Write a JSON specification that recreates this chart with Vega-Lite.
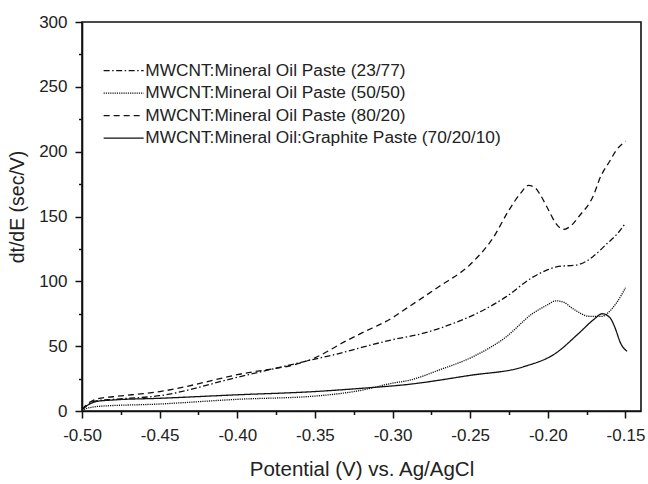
{
  "$schema": "https://vega.github.io/schema/vega-lite/v6.json",
  "width": 559,
  "height": 389,
  "autosize": {"type": "none"},
  "padding": {"left": 82, "top": 22, "right": 7, "bottom": 73},
  "background": "white",
  "config": {
    "view": {"stroke": "#111", "strokeWidth": 1.6},
    "font": "Liberation Sans",
    "axis": {
      "grid": false,
      "domainColor": "#111",
      "domainWidth": 1.6,
      "tickColor": "#111",
      "tickWidth": 1.5,
      "labelFont": "Liberation Sans",
      "labelFontSize": 17,
      "labelColor": "#222",
      "titleFont": "Liberation Sans",
      "titleFontWeight": "normal",
      "titleColor": "#222"
    },
    "legend": {
      "symbolType": "M-4,0H4",
      "symbolSize": 100,
      "symbolStrokeColor": "#111",
      "symbolStrokeWidth": 1.3
    }
  },
  "data": {
    "values": [
      {"s": "MWCNT:Mineral Oil Paste (80/20)", "x": -0.5, "y": 1},
      {"s": "MWCNT:Mineral Oil Paste (80/20)", "x": -0.497, "y": 5},
      {"s": "MWCNT:Mineral Oil Paste (80/20)", "x": -0.493, "y": 8},
      {"s": "MWCNT:Mineral Oil Paste (80/20)", "x": -0.49, "y": 9.5},
      {"s": "MWCNT:Mineral Oil Paste (80/20)", "x": -0.48, "y": 11},
      {"s": "MWCNT:Mineral Oil Paste (80/20)", "x": -0.45, "y": 15},
      {"s": "MWCNT:Mineral Oil Paste (80/20)", "x": -0.4, "y": 28},
      {"s": "MWCNT:Mineral Oil Paste (80/20)", "x": -0.35, "y": 41},
      {"s": "MWCNT:Mineral Oil Paste (80/20)", "x": -0.33, "y": 54},
      {"s": "MWCNT:Mineral Oil Paste (80/20)", "x": -0.32, "y": 60},
      {"s": "MWCNT:Mineral Oil Paste (80/20)", "x": -0.3, "y": 72},
      {"s": "MWCNT:Mineral Oil Paste (80/20)", "x": -0.29, "y": 80},
      {"s": "MWCNT:Mineral Oil Paste (80/20)", "x": -0.27, "y": 96},
      {"s": "MWCNT:Mineral Oil Paste (80/20)", "x": -0.25, "y": 113},
      {"s": "MWCNT:Mineral Oil Paste (80/20)", "x": -0.235, "y": 134},
      {"s": "MWCNT:Mineral Oil Paste (80/20)", "x": -0.225, "y": 155},
      {"s": "MWCNT:Mineral Oil Paste (80/20)", "x": -0.2175, "y": 168},
      {"s": "MWCNT:Mineral Oil Paste (80/20)", "x": -0.2125, "y": 174},
      {"s": "MWCNT:Mineral Oil Paste (80/20)", "x": -0.208, "y": 172},
      {"s": "MWCNT:Mineral Oil Paste (80/20)", "x": -0.205, "y": 167},
      {"s": "MWCNT:Mineral Oil Paste (80/20)", "x": -0.2, "y": 156},
      {"s": "MWCNT:Mineral Oil Paste (80/20)", "x": -0.195, "y": 145},
      {"s": "MWCNT:Mineral Oil Paste (80/20)", "x": -0.19, "y": 140},
      {"s": "MWCNT:Mineral Oil Paste (80/20)", "x": -0.185, "y": 143},
      {"s": "MWCNT:Mineral Oil Paste (80/20)", "x": -0.18, "y": 150},
      {"s": "MWCNT:Mineral Oil Paste (80/20)", "x": -0.17, "y": 168},
      {"s": "MWCNT:Mineral Oil Paste (80/20)", "x": -0.167, "y": 178},
      {"s": "MWCNT:Mineral Oil Paste (80/20)", "x": -0.16, "y": 193},
      {"s": "MWCNT:Mineral Oil Paste (80/20)", "x": -0.156, "y": 201},
      {"s": "MWCNT:Mineral Oil Paste (80/20)", "x": -0.15, "y": 208},

      {"s": "MWCNT:Mineral Oil Paste (23/77)", "x": -0.5, "y": 1},
      {"s": "MWCNT:Mineral Oil Paste (23/77)", "x": -0.497, "y": 4},
      {"s": "MWCNT:Mineral Oil Paste (23/77)", "x": -0.493, "y": 7},
      {"s": "MWCNT:Mineral Oil Paste (23/77)", "x": -0.49, "y": 8},
      {"s": "MWCNT:Mineral Oil Paste (23/77)", "x": -0.48, "y": 9},
      {"s": "MWCNT:Mineral Oil Paste (23/77)", "x": -0.45, "y": 11.8},
      {"s": "MWCNT:Mineral Oil Paste (23/77)", "x": -0.4, "y": 26},
      {"s": "MWCNT:Mineral Oil Paste (23/77)", "x": -0.35, "y": 40},
      {"s": "MWCNT:Mineral Oil Paste (23/77)", "x": -0.334, "y": 44.5},
      {"s": "MWCNT:Mineral Oil Paste (23/77)", "x": -0.32, "y": 49},
      {"s": "MWCNT:Mineral Oil Paste (23/77)", "x": -0.3, "y": 55},
      {"s": "MWCNT:Mineral Oil Paste (23/77)", "x": -0.28, "y": 60},
      {"s": "MWCNT:Mineral Oil Paste (23/77)", "x": -0.26, "y": 68},
      {"s": "MWCNT:Mineral Oil Paste (23/77)", "x": -0.248, "y": 74},
      {"s": "MWCNT:Mineral Oil Paste (23/77)", "x": -0.227, "y": 88},
      {"s": "MWCNT:Mineral Oil Paste (23/77)", "x": -0.21, "y": 103},
      {"s": "MWCNT:Mineral Oil Paste (23/77)", "x": -0.2, "y": 109},
      {"s": "MWCNT:Mineral Oil Paste (23/77)", "x": -0.195, "y": 111},
      {"s": "MWCNT:Mineral Oil Paste (23/77)", "x": -0.18, "y": 113},
      {"s": "MWCNT:Mineral Oil Paste (23/77)", "x": -0.171, "y": 119},
      {"s": "MWCNT:Mineral Oil Paste (23/77)", "x": -0.162, "y": 129},
      {"s": "MWCNT:Mineral Oil Paste (23/77)", "x": -0.155, "y": 137},
      {"s": "MWCNT:Mineral Oil Paste (23/77)", "x": -0.15, "y": 145},

      {"s": "MWCNT:Mineral Oil Paste (50/50)", "x": -0.5, "y": 0.5},
      {"s": "MWCNT:Mineral Oil Paste (50/50)", "x": -0.497, "y": 2},
      {"s": "MWCNT:Mineral Oil Paste (50/50)", "x": -0.493, "y": 3},
      {"s": "MWCNT:Mineral Oil Paste (50/50)", "x": -0.49, "y": 3.5},
      {"s": "MWCNT:Mineral Oil Paste (50/50)", "x": -0.45, "y": 5.4},
      {"s": "MWCNT:Mineral Oil Paste (50/50)", "x": -0.4, "y": 9},
      {"s": "MWCNT:Mineral Oil Paste (50/50)", "x": -0.35, "y": 11.5},
      {"s": "MWCNT:Mineral Oil Paste (50/50)", "x": -0.32, "y": 16},
      {"s": "MWCNT:Mineral Oil Paste (50/50)", "x": -0.3, "y": 21.5},
      {"s": "MWCNT:Mineral Oil Paste (50/50)", "x": -0.29, "y": 23.5},
      {"s": "MWCNT:Mineral Oil Paste (50/50)", "x": -0.27, "y": 31.6},
      {"s": "MWCNT:Mineral Oil Paste (50/50)", "x": -0.248, "y": 42},
      {"s": "MWCNT:Mineral Oil Paste (50/50)", "x": -0.227, "y": 57},
      {"s": "MWCNT:Mineral Oil Paste (50/50)", "x": -0.21, "y": 75},
      {"s": "MWCNT:Mineral Oil Paste (50/50)", "x": -0.2, "y": 82},
      {"s": "MWCNT:Mineral Oil Paste (50/50)", "x": -0.195, "y": 85},
      {"s": "MWCNT:Mineral Oil Paste (50/50)", "x": -0.19, "y": 84},
      {"s": "MWCNT:Mineral Oil Paste (50/50)", "x": -0.184, "y": 79},
      {"s": "MWCNT:Mineral Oil Paste (50/50)", "x": -0.173, "y": 73},
      {"s": "MWCNT:Mineral Oil Paste (50/50)", "x": -0.165, "y": 73},
      {"s": "MWCNT:Mineral Oil Paste (50/50)", "x": -0.162, "y": 75},
      {"s": "MWCNT:Mineral Oil Paste (50/50)", "x": -0.156, "y": 83},
      {"s": "MWCNT:Mineral Oil Paste (50/50)", "x": -0.15, "y": 95},

      {"s": "MWCNT:Mineral Oil:Graphite Paste (70/20/10)", "x": -0.5, "y": 1},
      {"s": "MWCNT:Mineral Oil:Graphite Paste (70/20/10)", "x": -0.497, "y": 4},
      {"s": "MWCNT:Mineral Oil:Graphite Paste (70/20/10)", "x": -0.493, "y": 6.5},
      {"s": "MWCNT:Mineral Oil:Graphite Paste (70/20/10)", "x": -0.49, "y": 7.5},
      {"s": "MWCNT:Mineral Oil:Graphite Paste (70/20/10)", "x": -0.48, "y": 8.5},
      {"s": "MWCNT:Mineral Oil:Graphite Paste (70/20/10)", "x": -0.45, "y": 9.8},
      {"s": "MWCNT:Mineral Oil:Graphite Paste (70/20/10)", "x": -0.4, "y": 12.5},
      {"s": "MWCNT:Mineral Oil:Graphite Paste (70/20/10)", "x": -0.35, "y": 15},
      {"s": "MWCNT:Mineral Oil:Graphite Paste (70/20/10)", "x": -0.32, "y": 17.5},
      {"s": "MWCNT:Mineral Oil:Graphite Paste (70/20/10)", "x": -0.29, "y": 20.5},
      {"s": "MWCNT:Mineral Oil:Graphite Paste (70/20/10)", "x": -0.25, "y": 27.5},
      {"s": "MWCNT:Mineral Oil:Graphite Paste (70/20/10)", "x": -0.216, "y": 34},
      {"s": "MWCNT:Mineral Oil:Graphite Paste (70/20/10)", "x": -0.195, "y": 44.5},
      {"s": "MWCNT:Mineral Oil:Graphite Paste (70/20/10)", "x": -0.18, "y": 60},
      {"s": "MWCNT:Mineral Oil:Graphite Paste (70/20/10)", "x": -0.17, "y": 71},
      {"s": "MWCNT:Mineral Oil:Graphite Paste (70/20/10)", "x": -0.165, "y": 75},
      {"s": "MWCNT:Mineral Oil:Graphite Paste (70/20/10)", "x": -0.16, "y": 72},
      {"s": "MWCNT:Mineral Oil:Graphite Paste (70/20/10)", "x": -0.157, "y": 65},
      {"s": "MWCNT:Mineral Oil:Graphite Paste (70/20/10)", "x": -0.153, "y": 52},
      {"s": "MWCNT:Mineral Oil:Graphite Paste (70/20/10)", "x": -0.149, "y": 46}
    ]
  },
  "mark": {"type": "line", "interpolate": "monotone", "color": "#111", "strokeWidth": 1.3, "clip": true},
  "encoding": {
    "x": {
      "field": "x",
      "type": "quantitative",
      "scale": {"domain": [-0.5, -0.14], "nice": false, "zero": false},
      "axis": {
        "title": "Potential (V) vs. Ag/AgCl",
        "titleFontSize": 20.5,
        "titlePadding": 16,
        "values": [-0.5, -0.475, -0.45, -0.425, -0.4, -0.375, -0.35, -0.325, -0.3, -0.275, -0.25, -0.225, -0.2, -0.175, -0.15],
        "labelExpr": "abs(round(datum.value*1000)) % 50 == 0 ? '-' + format(abs(datum.value), '.2f') : ''",
        "tickSize": {"condition": {"test": "abs(round(datum.value*1000)) % 50 != 0", "value": 3.5}, "value": 7},
        "labelPadding": 9,
        "labelFlush": false,
        "labelOverlap": false
      }
    },
    "y": {
      "field": "y",
      "type": "quantitative",
      "scale": {"domain": [0, 300], "nice": false},
      "axis": {
        "title": "dt/dE (sec/V)",
        "titleFontSize": 19.5,
        "titlePadding": 11,
        "titleY": 184.5,
        "values": [0, 25, 50, 75, 100, 125, 150, 175, 200, 225, 250, 275, 300],
        "labelExpr": "datum.value % 50 == 0 ? datum.label : ''",
        "tickSize": {"condition": {"test": "datum.value % 50 != 0", "value": 3.5}, "value": 7},
        "labelPadding": 8,
        "labelOverlap": false
      }
    },
    "strokeDash": {
      "field": "s",
      "type": "nominal",
      "scale": {
        "domain": ["MWCNT:Mineral Oil Paste (23/77)", "MWCNT:Mineral Oil Paste (50/50)", "MWCNT:Mineral Oil Paste (80/20)", "MWCNT:Mineral Oil:Graphite Paste (70/20/10)"],
        "range": [[6, 2.5, 1.5, 2.5], [1.2, 1], [6, 4], [1, 0]]
      },
      "legend": {
        "title": null,
        "orient": "none",
        "legendX": 33,
        "legendY": 40,
        "padding": 0,
        "labelFontSize": 17.3,
        "labelColor": "#222",
        "labelOffset": 13,
        "rowPadding": 4.5,
        "labelLimit": 500
      }
    }
  }
}
